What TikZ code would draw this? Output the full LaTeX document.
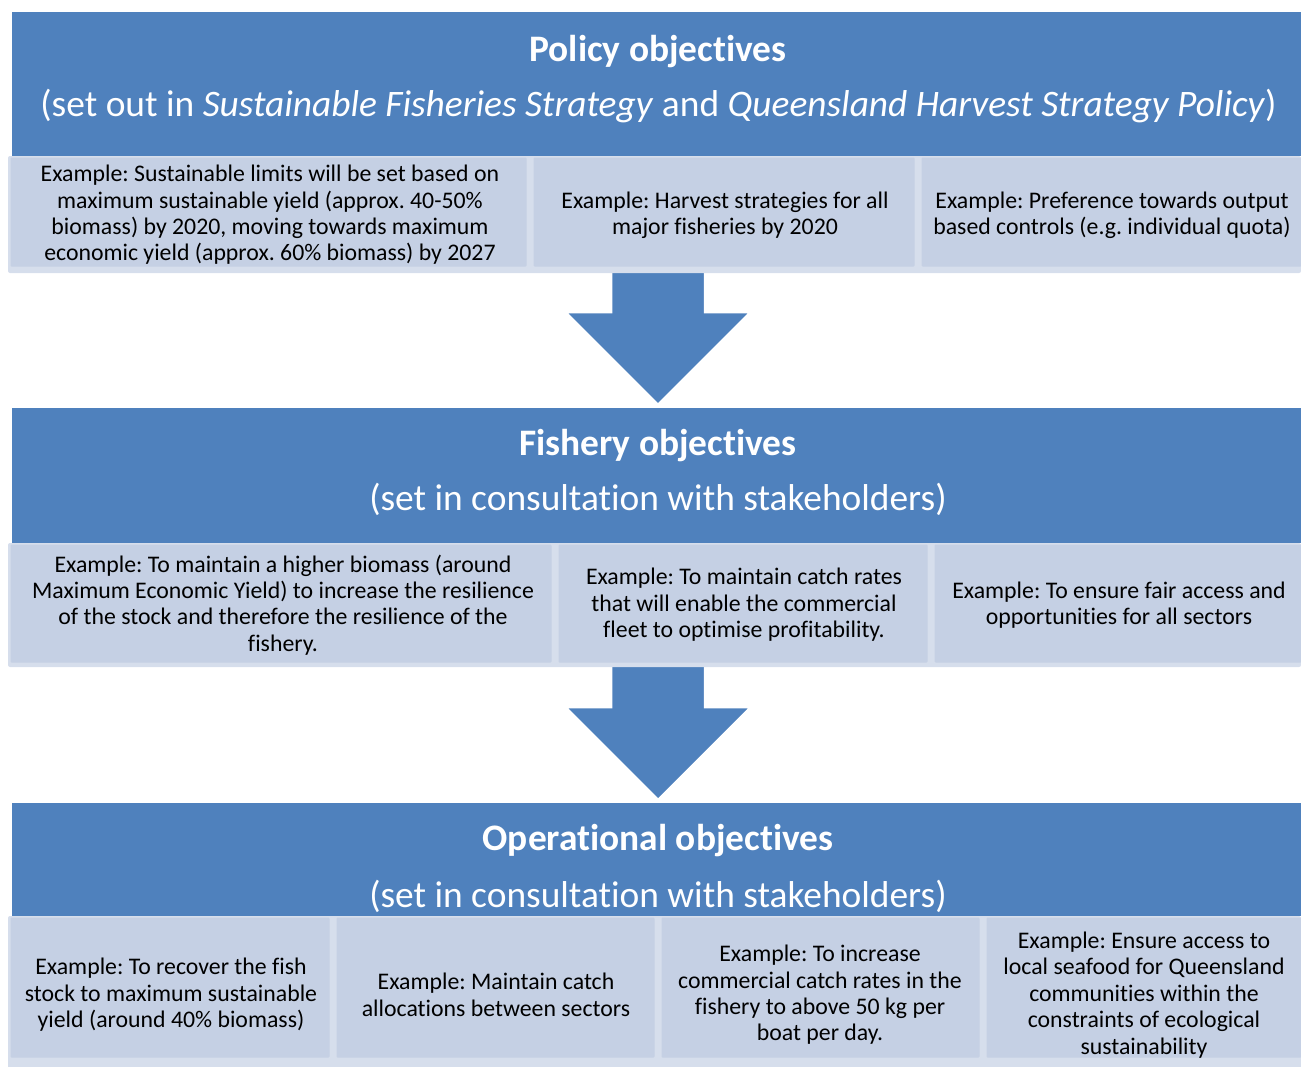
\documentclass[tikz,border=0pt]{standalone}
\usepackage{fontspec}
\setmainfont{Carlito}[Ligatures=NoCommon]
\frenchspacing
\begin{document}
\definecolor{barblue}{HTML}{4F81BD}
\definecolor{boxfill}{HTML}{C5D0E4}
\definecolor{boxedge}{HTML}{D6DEEC}
\begin{tikzpicture}[x=1pt,y={(0pt,-1pt)},
  bar/.style={fill=barblue, draw=none, inner sep=0pt, outer sep=0pt, anchor=north west},
  rowband/.style={fill=boxedge, rounded corners=2pt},
  exbox/.style={fill=boxfill, draw=none, inner sep=0pt, outer sep=0pt, anchor=north west, rounded corners=1pt},
  title/.style={text=white, font=\fontsize{37.4}{44}\selectfont\bfseries, anchor=base, inner sep=0pt},
  subtitle/.style={text=white, font=\fontsize{37.4}{44}\selectfont, anchor=base, inner sep=0pt},
  extext/.style={text=black, align=center, inner sep=0pt, font=\fontsize{23.8}{26.4}\selectfont},
  blockarrow/.style={fill=barblue, draw=white, line width=2.5pt, line join=miter}
]
\useasboundingbox (0,0) rectangle (1301,1066);

% level bars
\node[bar, minimum width=1289pt, minimum height=144pt] (policy) at (12,12) {};
\node[bar, minimum width=1289pt, minimum height=135pt] (fishery) at (12,408) {};
\node[bar, minimum width=1289pt, minimum height=113pt] (oper) at (12,803) {};

% block arrows between the levels
\filldraw[blockarrow] (611,268) -- (705,268) -- (705,312) -- (751,312) -- (658,405)
  -- (565,312) -- (611,312) -- cycle;
\filldraw[blockarrow] (611,662) -- (705,662) -- (705,707) -- (751,707) -- (658,800)
  -- (565,707) -- (611,707) -- cycle;

% headings
\node[title] (policyT) at (658,61) {Policy objectives};
\node[subtitle] (policyS) at (658.5,116) {(set out in \textit{Sustainable Fisheries Strategy} and \textit{Queensland Harvest Strategy Policy})};
\node[title] (fisheryT) at (658,455) {Fishery objectives};
\node[subtitle] (fisheryS) at (658,510) {(set in consultation with stakeholders)};
\node[title] (operT) at (658,850) {Operational objectives};
\node[subtitle] (operS) at (658,907) {(set in consultation with stakeholders)};

% example rows: policy level
\fill[rowband] (8,156) rectangle (1301,273);
\node[exbox, minimum width=516pt, minimum height=109pt] (p1) at (10.5,157.5) {};
\node[exbox, minimum width=381pt, minimum height=109pt] (p2) at (533.5,157.5) {};
\node[exbox, minimum width=380pt, minimum height=109pt] (p3) at (921.5,157.5) {};
\node[extext] (p1t) at (270,215) {Example: Sustainable limits will be set based on\\maximum sustainable yield (approx. 40-50\%\\biomass) by 2020, moving towards maximum\\economic yield (approx. 60\% biomass) by 2027};
\node[extext] (p2t) at (725,215) {Example: Harvest strategies for all\\major fisheries by 2020};
\node[extext] (p3t) at (1112,215) {Example: Preference towards output\\based controls (e.g. individual quota)};

% example rows: fishery level
\fill[rowband] (8,543) rectangle (1301,667);
\node[exbox, minimum width=541pt, minimum height=118pt] (f1) at (10.5,544.5) {};
\node[exbox, minimum width=369pt, minimum height=118pt] (f2) at (558.5,544.5) {};
\node[exbox, minimum width=367pt, minimum height=118pt] (f3) at (934.5,544.5) {};
\node[extext] (f1t) at (283,605) {Example: To maintain a higher biomass (around\\Maximum Economic Yield) to increase the resilience\\of the stock and therefore the resilience of the\\fishery.};
\node[extext] (f2t) at (744,605) {Example: To maintain catch rates\\that will enable the commercial\\fleet to optimise profitability.};
\node[extext] (f3t) at (1119,605) {Example: To ensure fair access and\\opportunities for all sectors};

% example rows: operational level
\fill[rowband] (8,916) rectangle (1301,1070);
\node[exbox, minimum width=319pt, minimum height=140pt] (o1) at (10.5,917.5) {};
\node[exbox, minimum width=318pt, minimum height=140pt] (o2) at (336.5,917.5) {};
\node[exbox, minimum width=318pt, minimum height=140pt] (o3) at (661.5,917.5) {};
\node[exbox, minimum width=315pt, minimum height=140pt] (o4) at (986.5,917.5) {};
\node[extext] (o1t) at (171,995) {Example: To recover the fish\\stock to maximum sustainable\\yield (around 40\% biomass)};
\node[extext] (o2t) at (496,995) {Example: Maintain catch\\allocations between sectors};
\node[extext] (o3t) at (820,995) {Example: To increase\\commercial catch rates in the\\fishery to above 50 kg per\\boat per day.};
\node[extext] (o4t) at (1144,995) {Example: Ensure access to\\local seafood for Queensland\\communities within the\\constraints of ecological\\sustainability};
\end{tikzpicture}
\end{document}
